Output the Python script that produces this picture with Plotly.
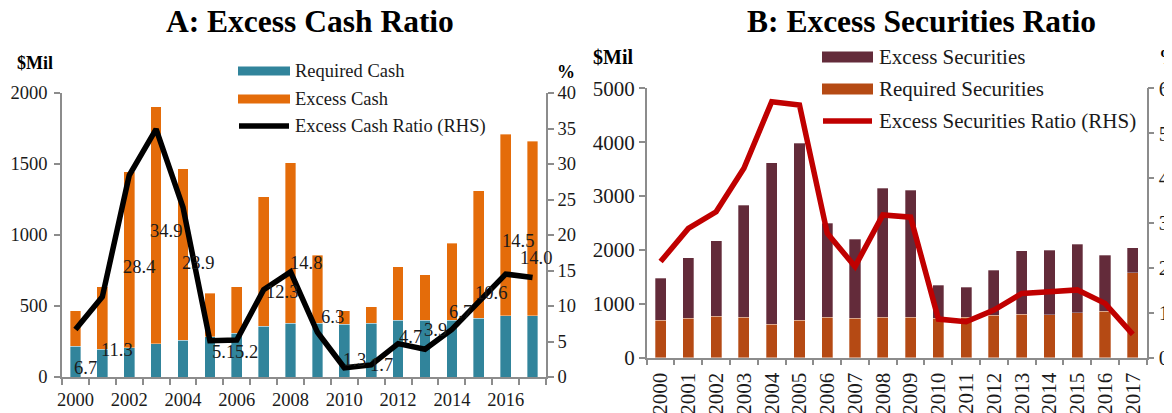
import plotly.graph_objects as go

# The page body has an 8px margin: the figure is sized to fit the 1172x413 window exactly,
# and every screen position S maps to figure position S - 8.
OFF = 8
W, H = 1172 - OFF, 413 - OFF

years = list(range(2000, 2018))

# Panel A ($Mil, %)
required_cash = [218, 195, 205, 234, 258, 284, 307, 357, 378, 378, 371, 378, 399, 399, 399, 415, 432, 432]
excess_cash = [247, 439, 1241, 1669, 1209, 305, 329, 911, 1131, 481, 96, 117, 378, 322, 542, 897, 1279, 1230]
excess_cash_ratio = [6.7, 11.3, 28.4, 34.9, 23.9, 5.1, 5.2, 12.3, 14.8, 6.3, 1.3, 1.7, 4.7, 3.9, 6.7, 10.6, 14.5, 14.0]

# Panel B ($Mil, %)
required_sec = [694, 736, 773, 755, 625, 694, 749, 731, 749, 749, 731, 749, 786, 811, 798, 835, 866, 1577]
excess_sec = [779, 1119, 1397, 2072, 2993, 3283, 1744, 1465, 2393, 2362, 618, 563, 841, 1174, 1194, 1269, 1039, 464]
excess_sec_ratio = [21.4, 28.8, 32.5, 42.2, 57.0, 56.3, 27.7, 20.3, 31.8, 31.3, 8.6, 8.0, 10.6, 14.3, 14.7, 15.1, 12.1, 5.2]

# label placement for panel A data labels (layout only: RHS units / px shift)
label_pos_y = [1.3, 3.8, 15.5, 20.5, 16.1, 3.5, 3.5, 12.0, 16.1, 8.5, 2.4, 1.7, 5.7, 6.6, 9.2, 11.8, 19.1, 16.8]
label_shift_x = [10, 15, 10, 10, 15, 14, 10, 18, 15, 15, 10, 10, 12, 10, 9, 12, 12, 3]

SERIF = "Liberation Serif"
AX = "#8c8c8c"
TXT = "#1a1a1a"
C_REQ_CASH = "#31849B"
C_EXC_CASH = "#E46C0A"
C_EXC_SEC = "#632B3A"
C_REQ_SEC = "#B54A14"
C_RATIO_B = "#C00000"


def px_x(s):
    return (s - OFF) / W


def px_y(s):
    return 1 - (s - OFF) / H


fig = go.Figure()

# Panel A
fig.add_trace(go.Bar(x=years, y=required_cash, name="Required Cash", marker_color=C_REQ_CASH,
                     marker_line=dict(color="rgba(255,255,255,0.6)", width=0.6),
                     width=0.4, xaxis="x", yaxis="y", showlegend=False))
fig.add_trace(go.Bar(x=years, y=excess_cash, name="Excess Cash", marker_color=C_EXC_CASH,
                     marker_line=dict(color="rgba(255,255,255,0.6)", width=0.6),
                     width=0.4, xaxis="x", yaxis="y", showlegend=False))
fig.add_trace(go.Scatter(x=years, y=excess_cash_ratio, mode="lines", name="Excess Cash Ratio (RHS)",
                         line=dict(color="black", width=5.5), xaxis="x", yaxis="y2", showlegend=False))

# Panel B
fig.add_trace(go.Bar(x=years, y=required_sec, name="Required Securities", marker_color=C_REQ_SEC,
                     marker_line=dict(color="rgba(255,255,255,0.5)", width=0.6),
                     width=0.4, xaxis="x2", yaxis="y3", showlegend=False))
fig.add_trace(go.Bar(x=years, y=excess_sec, name="Excess Securities", marker_color=C_EXC_SEC,
                     marker_line=dict(color="rgba(255,255,255,0.5)", width=0.6),
                     width=0.4, xaxis="x2", yaxis="y3", showlegend=False))
fig.add_trace(go.Scatter(x=years, y=excess_sec_ratio, mode="lines", name="Excess Securities Ratio (RHS)",
                         line=dict(color=C_RATIO_B, width=5.5), xaxis="x2", yaxis="y4", showlegend=False))

boundaries = [y - 0.5 for y in years] + [years[-1] + 0.5]

common_x = dict(range=[years[0] - 0.5, years[-1] + 0.5], showline=True, linecolor=AX, linewidth=1.5,
                showgrid=False, zeroline=False, ticks="", ticklen=0, automargin=False,
                ticklabelstandoff=5,
                minor=dict(tickmode="array", tickvals=boundaries, ticks="outside", ticklen=6,
                           tickcolor=AX, tickwidth=1.5, showgrid=False))


def yax(**kw):
    d = dict(showline=True, linecolor=AX, linewidth=1.5, ticks="outside", ticklen=6,
             tickcolor=AX, tickwidth=1.5, showgrid=False, zeroline=False, automargin=False)
    d.update(kw)
    return d


fig.update_layout(
    width=W, height=H, margin=dict(l=0, r=0, t=0, b=0, pad=0, autoexpand=False),
    paper_bgcolor="white", plot_bgcolor="white",
    barmode="stack",
    font=dict(family=SERIF, color=TXT),
    xaxis=dict(domain=[px_x(62), px_x(546)], anchor="y",
               tickmode="array", tickvals=years[::2], ticktext=[str(y) for y in years[::2]],
               tickfont=dict(size=18.5, family=SERIF, color=TXT), **common_x),
    yaxis=yax(domain=[px_y(377), px_y(93)], range=[0, 2000], dtick=500, anchor="x",
              ticklabelstandoff=3, tickfont=dict(size=18.5, family=SERIF, color=TXT)),
    yaxis2=yax(overlaying="y", side="right", anchor="x", range=[0, 40], dtick=5,
               tickfont=dict(size=18.5, family=SERIF, color=TXT)),
    xaxis2=dict(domain=[px_x(646.7), px_x(1146.7)], anchor="y3",
                tickmode="array", tickvals=years, ticktext=[str(y) for y in years], tickangle=-90,
                tickfont=dict(size=21, family=SERIF, color=TXT), **common_x),
    yaxis3=yax(domain=[px_y(357.7), px_y(88.3)], range=[0, 5000], dtick=1000, anchor="x2",
               tickfont=dict(size=21, family=SERIF, color=TXT)),
    yaxis4=yax(overlaying="y3", side="right", anchor="x2", range=[0, 60], dtick=10,
               tickfont=dict(size=21, family=SERIF, color=TXT)),
)

annotations = []
for yr, v, ly, dx in zip(years, excess_cash_ratio, label_pos_y, label_shift_x):
    annotations.append(dict(x=yr, y=ly, xref="x", yref="y2", text=f"{v:.1f}", showarrow=False,
                            xshift=dx, font=dict(size=18.5, family=SERIF, color=TXT)))


def ptext(x, y, text, size, anchor="center", bold=False, color="black"):
    return dict(x=px_x(x), y=px_y(y), xref="paper", yref="paper",
                text=f"<b>{text}</b>" if bold else text, showarrow=False,
                xanchor=anchor, yanchor="middle", font=dict(size=size, family=SERIF, color=color))


annotations.append(ptext(310, 22, "A: Excess Cash Ratio", 31.5, bold=True))
annotations.append(ptext(921, 22, "B: Excess Securities Ratio", 31.5, bold=True))
annotations.append(ptext(35, 63, "$Mil", 18, bold=True))
annotations.append(ptext(566, 72, "%", 18, bold=True))
annotations.append(ptext(613, 57, "$Mil", 20, bold=True))
annotations.append(ptext(1157, 57, "%", 20, anchor="left", bold=True))

shapes = []
legA = [("Required Cash", "bar", C_REQ_CASH, 71), ("Excess Cash", "bar", C_EXC_CASH, 99),
        ("Excess Cash Ratio (RHS)", "line", "black", 126)]
for name, kind, col, yc in legA:
    if kind == "bar":
        shapes.append(dict(type="rect", xref="paper", yref="paper", x0=px_x(238), x1=px_x(290),
                           y0=px_y(yc + 4.5), y1=px_y(yc - 4.5), fillcolor=col, line=dict(width=0)))
    else:
        shapes.append(dict(type="line", xref="paper", yref="paper", x0=px_x(239), x1=px_x(289),
                           y0=px_y(yc), y1=px_y(yc), line=dict(color=col, width=5.5)))
    annotations.append(ptext(293, yc, name, 18.5, anchor="left", color=TXT))

legB = [("Excess Securities", "bar", C_EXC_SEC, 57), ("Required Securities", "bar", C_REQ_SEC, 89),
        ("Excess Securities Ratio (RHS)", "line", C_RATIO_B, 121)]
for name, kind, col, yc in legB:
    if kind == "bar":
        shapes.append(dict(type="rect", xref="paper", yref="paper", x0=px_x(822), x1=px_x(873),
                           y0=px_y(yc + 5.5), y1=px_y(yc - 5.5), fillcolor=col, line=dict(width=0)))
    else:
        shapes.append(dict(type="line", xref="paper", yref="paper", x0=px_x(823), x1=px_x(872),
                           y0=px_y(yc), y1=px_y(yc), line=dict(color=col, width=5.5)))
    annotations.append(ptext(877, yc, name, 21, anchor="left", color=TXT))

fig.update_layout(annotations=annotations, shapes=shapes)

fig.write_html("out.html", config={"displayModeBar": False})
